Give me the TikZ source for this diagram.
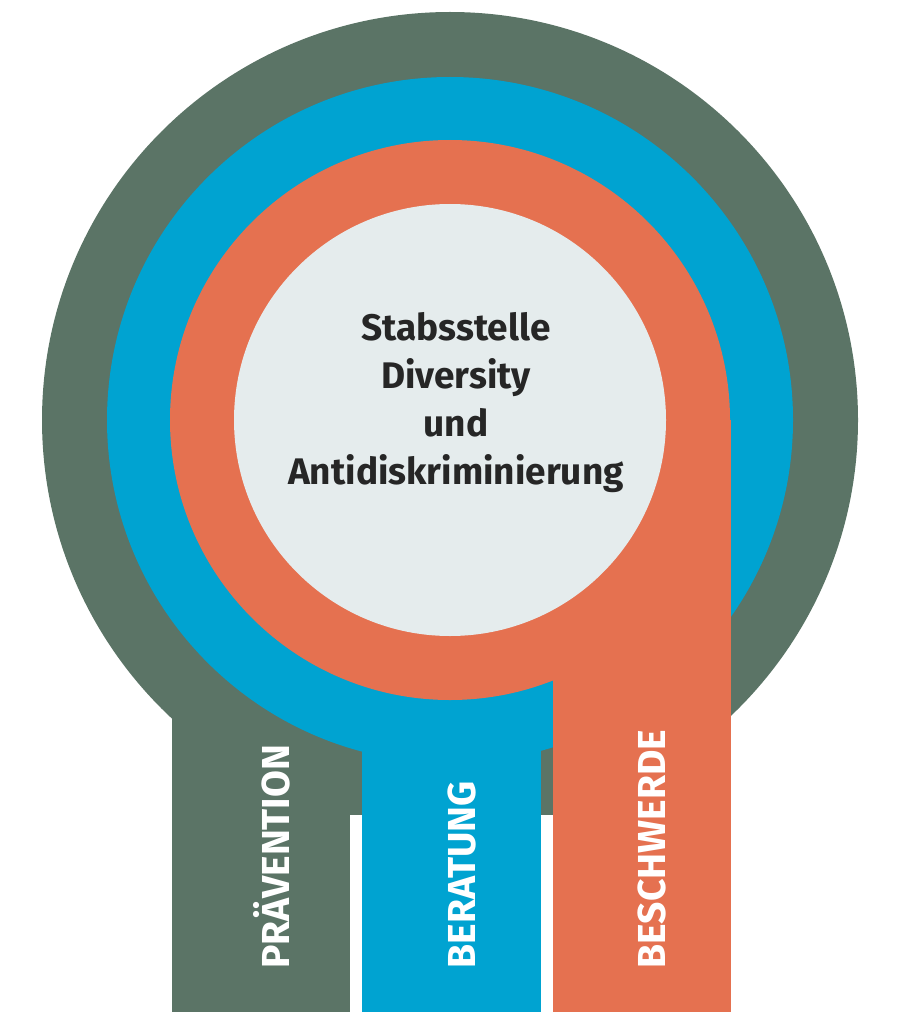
\documentclass[tikz,border=0pt]{standalone}
\usepackage{fontspec}
\setmainfont{Fira Sans}
\definecolor{cg}{HTML}{5B7466}
\definecolor{cb}{HTML}{00A3D1}
\definecolor{co}{HTML}{E57150}
\definecolor{cl}{HTML}{E5ECED}
\begin{document}
\begin{tikzpicture}[x=1pt,y=-1pt,
  lab/.style={text=white,font=\fontsize{39}{44}\selectfont\bfseries,rotate=90,anchor=west}]
\useasboundingbox (0,0) rectangle (900,1024);
\fill[cg] (450,420) circle (408);
\fill[cg] (172,600) rectangle (350,1012);
\fill[cb] (450,420) circle (343);
\fill[cb] (362,600) rectangle (541,1012);
\fill[co] (450,420) circle (280);
\fill[co] (553,420) rectangle (731,1012);
\fill[white] (350,815) rectangle (362,1024);
\fill[white] (541,815) rectangle (553,1024);
\node[fill=cl,circle,minimum size=432,inner sep=0] (c) at (450,420) {};
\node[align=center,font=\fontsize{37}{48}\selectfont\bfseries,text=black!85] (t) at (456,403) {Stabsstelle\\Diversity\\und\\Antidiskriminierung};
\node[lab] (p) at (272,972) {PRÄVENTION};
\node[lab] (b) at (462,972) {BERATUNG};
\node[lab] (s) at (652,972) {BESCHWERDE};
\end{tikzpicture}
\end{document}
